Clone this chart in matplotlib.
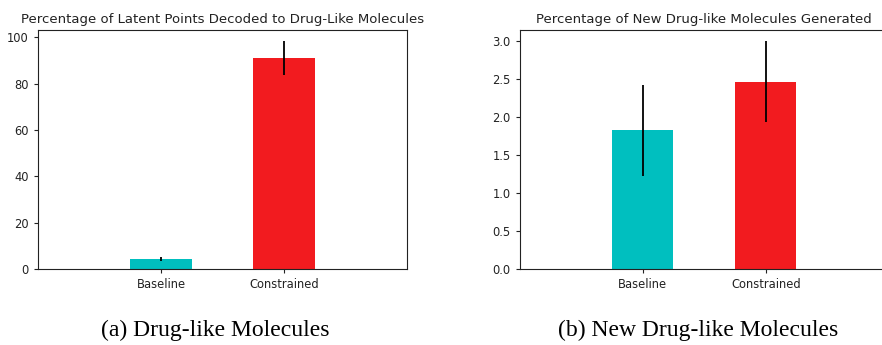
import matplotlib
matplotlib.use("Agg")
import matplotlib.pyplot as plt

categories = ["Baseline", "Constrained"]
colors = ["#00bfbf", "#f21b1f"]

druglike_mean = [4.3, 91.0]
druglike_err = [1.0, 7.3]

new_druglike_mean = [1.82, 2.46]
new_druglike_err = [0.60, 0.53]

titles = ["Percentage of Latent Points Decoded to Drug-Like Molecules",
          "Percentage of New Drug-like Molecules Generated"]
captions = ["(a) Drug-like Molecules", "(b) New Drug-like Molecules"]

fig = plt.figure(figsize=(8.82, 3.45), dpi=100)
ax1 = fig.add_axes([38 / 882, 1 - 269 / 345, 369 / 882, 239 / 345])
ax2 = fig.add_axes([519.7 / 882, 1 - 269 / 345, 369 / 882, 239 / 345])

for ax, means, errs, title in [(ax1, druglike_mean, druglike_err, titles[0]),
                               (ax2, new_druglike_mean, new_druglike_err, titles[1])]:
    x = list(range(len(categories)))
    ax.bar(x, means, width=0.5, color=colors, yerr=errs,
           error_kw=dict(ecolor="black", elinewidth=1.3, capsize=0))
    ax.set_xlim(-1, 2)
    ax.set_ylim(0, max(m + e for m, e in zip(means, errs)) * 1.05)
    ax.set_xticks(x)
    ax.set_xticklabels(categories)
    ax.tick_params(labelsize=8.3, length=3, color="#222222", labelcolor="#222222")
    ax.set_title(title, fontsize=9.5, pad=5, color="#222222")
    for s in ax.spines.values():
        s.set_color("#222222")

ax2.set_yticks([0, 0.5, 1.0, 1.5, 2.0, 2.5, 3.0])

fig.text(215 / 882, 1 - 330 / 345, captions[0], ha="center", va="center",
         fontsize=17, family="Liberation Serif")
fig.text(698 / 882, 1 - 330 / 345, captions[1], ha="center", va="center",
         fontsize=17, family="Liberation Serif")

fig.savefig("out.png", dpi=100)
